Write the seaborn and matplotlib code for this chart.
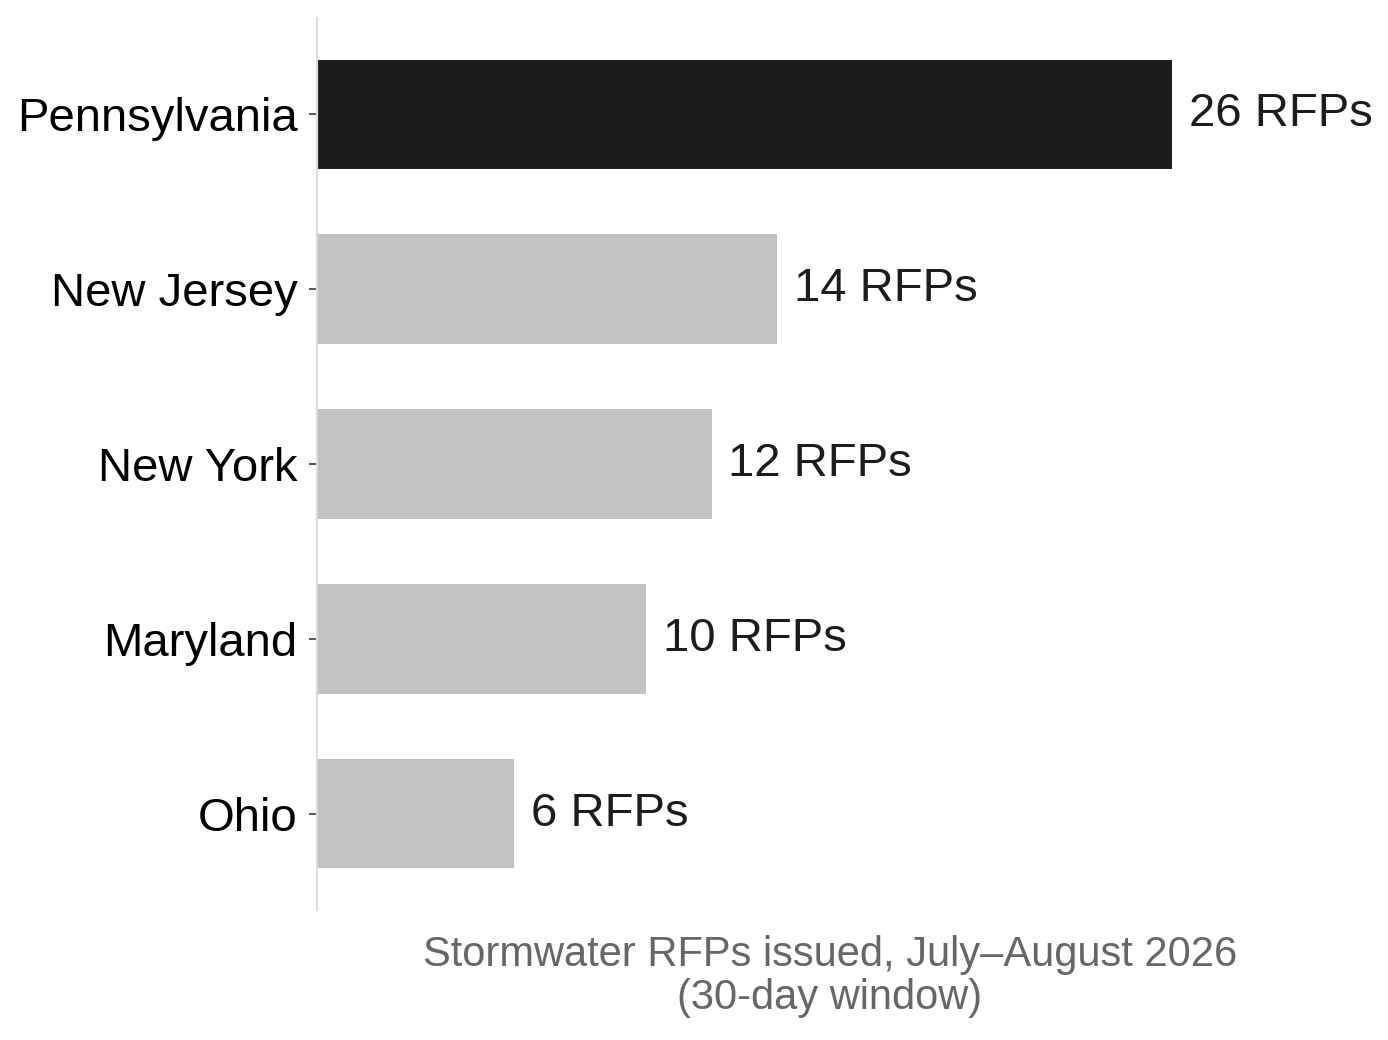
import pandas as pd
import matplotlib
matplotlib.use("Agg")
import matplotlib.pyplot as plt
import seaborn as sns

# Chart data
states = ["Pennsylvania", "New Jersey", "New York", "Maryland", "Ohio"]
rfps = [26, 14, 12, 10, 6]
bar_colors = ["#1c1c1c", "#c2c2c2", "#c2c2c2", "#c2c2c2", "#c2c2c2"]

df = pd.DataFrame({"state": states, "rfps": rfps})

sns.set_style("white")
plt.rcParams["font.family"] = ["Liberation Sans", "DejaVu Sans"]

fig, ax = plt.subplots(figsize=(6.94, 5.2), dpi=200)
fig.subplots_adjust(left=0.2284, right=0.9676, top=0.9827, bottom=0.125)

sns.barplot(data=df, x="rfps", y="state", hue="state", palette=bar_colors,
            legend=False, width=0.625, saturation=1, linewidth=0, ax=ax)

for i, v in enumerate(rfps):
    ax.annotate(f"{v} RFPs", xy=(v, i), xytext=(6, 0), textcoords="offset points",
                ha="left", va="center", fontsize=17, color="#1c1c1c")

ax.set_xlim(0, 31.2)
ax.set_ylim(4.55, -0.55)
ax.set_ylabel("")
ax.set_xlabel("Stormwater RFPs issued, July\u2013August 2026\n(30-day window)",
              fontsize=15, color="#666666", labelpad=9, linespacing=1.1)
ax.set_xticks([])
ax.tick_params(axis="y", labelsize=17, labelcolor="black", length=3,
               width=0.6, color="#333333", pad=4, left=True)

for side in ["top", "right", "bottom"]:
    ax.spines[side].set_visible(False)
ax.spines["left"].set_color("#dddddd")
ax.spines["left"].set_linewidth(0.8)

fig.savefig("out.png", dpi=200)
